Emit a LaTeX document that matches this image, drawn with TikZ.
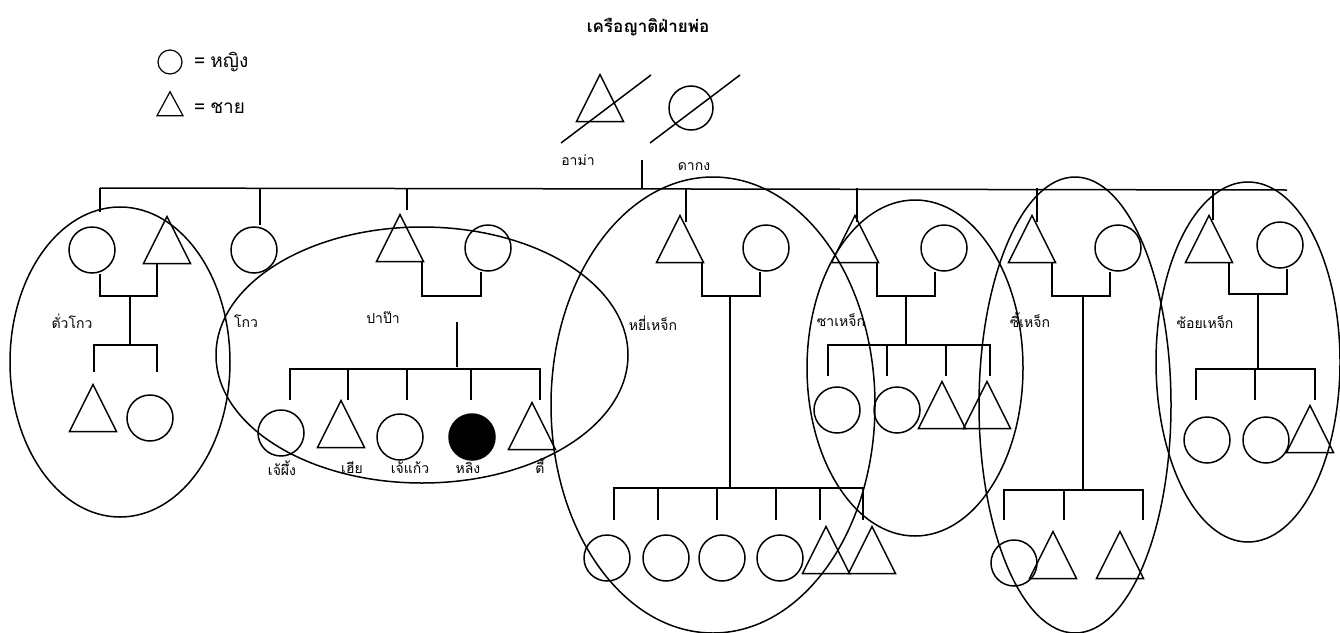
\documentclass[tikz,border=0pt]{standalone}
\usepackage{fontspec}
\setmainfont[Script=Thai]{Loma}
\usetikzlibrary{shapes.geometric}
\tikzset{
  ln/.style={line width=1.5pt},
  fem/.style={circle,draw,line width=1.5pt,minimum size=46pt,inner sep=0pt},
  femfill/.style={fem,fill=black},
  mal/.style={isosceles triangle,isosceles triangle stretches,shape border rotate=90,draw,line width=1.5pt,minimum width=47pt,minimum height=47pt,inner sep=0pt,outer sep=0pt},
  grp/.style={line width=1.5pt},
  lbl/.style={font=\fontsize{14}{16}\selectfont,inner sep=0pt},
}
\begin{document}
\begin{tikzpicture}[x=1pt,y=-1pt]
\useasboundingbox (0,0) rectangle (1340,632);
% title
\node[font=\fontsize{17}{19}\selectfont\bfseries] (title) at (648,27) {เครือญาติฝ่ายพ่อ};
% legend
\node[fem,minimum size=24pt,line width=1.2pt] (lgc) at (170,62) {};
\node[mal,minimum width=26pt,minimum height=24pt,line width=1.2pt] (lgt) at (170,108) {};
\node[anchor=west,font=\fontsize{19}{21}\selectfont,inner sep=0pt] (lgct) at (194,62) {=\hspace{5pt}หญิง};
\node[anchor=west,font=\fontsize{19}{21}\selectfont,inner sep=0pt] (lgtt) at (194,108) {=\hspace{5pt}ชาย};
% grandparents
\node[mal] (gf) at (600,107) {};
\node[fem,minimum size=44pt] (gm) at (691,108) {};
\coordinate (gfs1) at (561,143); \coordinate (gfs2) at (651,75);
\coordinate (gms1) at (650,143); \coordinate (gms2) at (740,75);
\draw[ln] (gfs1) -- (gfs2);
\draw[ln] (gms1) -- (gms2);
\node[lbl] (gfl) at (578,160) {อาม่า};
\node[lbl] (gml) at (694,167) {ดากง};
\coordinate (gtop) at (642,160);
\coordinate (barL) at (100,188);
\coordinate (barR) at (1287,190);
\draw[ln] (gtop) -- (642,188);
\draw[ln] (barL) -- (barR);

% ---- family 1: ตั่วโกว
\node[fem] (f1w) at (92,250) {};
\node[mal] (f1h) at (167,249) {};
\draw[ln] (barL) -- (100,212);
\draw[ln] (100,0 |- f1w.south) -- (100,296) -- (157,296) -- (157,0 |- f1h.south);
\draw[ln] (130,296) -- (130,345);
\draw[ln] (94,372) -- (94,345) -- (157,345) -- (157,372);
\node[mal] (f1c1) at (93,417) {};
\node[fem] (f1c2) at (150,418) {};
\node[lbl] (f1l) at (72,321) {ตั่วโกว};
\draw[grp] (120,362) ellipse [x radius=110pt,y radius=155pt];

% ---- โกว
\draw[ln] (260,188) -- (260,225);
\node[fem] (f2) at (254,250) {};
\node[lbl] (f2l) at (246,321) {โกว};

% ---- family 3: ปาป๊า
\draw[ln] (407,188) -- (407,210);
\node[mal] (f3h) at (400,247) {};
\node[fem] (f3w) at (488,248) {};
\draw[ln] (422,0 |- f3h.south) -- (422,296) -- (481,296) -- (481,0 |- f3w.south);
\node[lbl] (f3l) at (383,318) {ปาป๊า};
\draw[ln] (457,322) -- (457,367);
\draw[ln] (290,400) -- (290,369) -- (540,369) -- (540,400);
\draw[ln] (348,369) -- (348,400);
\draw[ln] (407,369) -- (407,400);
\draw[ln] (471,369) -- (471,400);
\node[fem] (f3c1) at (281,433) {};
\node[mal] (f3c2) at (341,433) {};
\node[fem] (f3c3) at (400,437) {};
\node[femfill] (f3c4) at (472,437) {};
\node[mal] (f3c5) at (532,435) {};
\node[lbl] (f3c1l) at (282,468) {เจ้ผึ้ง};
\node[lbl] (f3c2l) at (352,468) {เฮีย};
\node[lbl] (f3c3l) at (410,468) {เจ้แก้ว};
\node[lbl] (f3c4l) at (468,468) {หลิง};
\node[lbl] (f3c5l) at (540,466) {ตี้};
\draw[grp] (422,355) ellipse [x radius=206pt,y radius=128pt];

% ---- family 4: หยี่เหจ็ก
\draw[ln] (686,188) -- (686,222);
\node[mal] (f4h) at (680,248) {};
\node[fem] (f4w) at (766,248) {};
\draw[ln] (702,0 |- f4h.south) -- (702,296) -- (760,296) -- (760,0 |- f4w.south);
\node[lbl] (f4l) at (653,323) {หยี่เหจ็ก};
\draw[ln] (730,296) -- (730,488);
\draw[ln] (614,520) -- (614,488) -- (863,488) -- (863,520);
\foreach \xx in {658,717,776,820} \draw[ln] (\xx,488) -- (\xx,520);
\node[fem] (f4c1) at (607,558) {};
\node[fem] (f4c2) at (666,558) {};
\node[fem] (f4c3) at (722,558) {};
\node[fem] (f4c4) at (780,558) {};
\node[mal] (f4c5) at (826,559) {};
\node[mal] (f4c6) at (872,559) {};
\draw[grp] (713,405) ellipse [x radius=162pt,y radius=228pt];

% ---- family 5: ซาเหจ็ก
\draw[ln] (857,188) -- (857,222);
\node[mal] (f5h) at (855,248) {};
\node[fem] (f5w) at (944,248) {};
\draw[ln] (877,0 |- f5h.south) -- (877,296) -- (935,296) -- (935,0 |- f5w.south);
\node[lbl] (f5l) at (841,320) {ซาเหจ็ก};
\draw[ln] (906,296) -- (906,345);
\draw[ln] (828,376) -- (828,345) -- (990,345) -- (990,376);
\foreach \xx in {887,946} \draw[ln] (\xx,345) -- (\xx,376);
\node[fem] (f5c1) at (837,410) {};
\node[fem] (f5c2) at (897,410) {};
\node[mal] (f5c3) at (942,414) {};
\node[mal] (f5c4) at (987,414) {};
\draw[grp] (915,368) ellipse [x radius=108pt,y radius=168pt];

% ---- family 6: ซี้เหจ็ก
\draw[ln] (1037,188) -- (1037,222);
\node[mal] (f6h) at (1032,248) {};
\node[fem] (f6w) at (1118,248) {};
\draw[ln] (1052,0 |- f6h.south) -- (1052,296) -- (1110,296) -- (1110,0 |- f6w.south);
\node[lbl] (f6l) at (1030,320) {ซี้เหจ็ก};
\draw[ln] (1083,296) -- (1083,490);
\draw[ln] (1004,520) -- (1004,490) -- (1143,490) -- (1143,520);
\draw[ln] (1064,490) -- (1064,520);
\node[fem] (f6c1) at (1014,563) {};
\node[mal] (f6c2) at (1053,564) {};
\node[mal] (f6c3) at (1120,564) {};
\draw[grp] (1075,405) ellipse [x radius=96pt,y radius=228pt];

% ---- family 7: ซ้อยเหจ็ก
\draw[ln] (1213,190) -- (1213,220);
\node[mal] (f7h) at (1209,248) {};
\node[fem] (f7w) at (1280,245) {};
\draw[ln] (1229,0 |- f7h.south) -- (1229,294) -- (1287,294) -- (1287,0 |- f7w.south);
\node[lbl] (f7l) at (1205,322) {ซ้อยเหจ็ก};
\draw[ln] (1258,294) -- (1258,369);
\draw[ln] (1196,400) -- (1196,369) -- (1315,369) -- (1315,400);
\draw[ln] (1255,369) -- (1255,400);
\node[fem] (f7c1) at (1207,440) {};
\node[fem] (f7c2) at (1266,440) {};
\node[mal] (f7c3) at (1310,438) {};
\draw[grp] (1248,362) ellipse [x radius=92pt,y radius=180pt];
\end{tikzpicture}
\end{document}
